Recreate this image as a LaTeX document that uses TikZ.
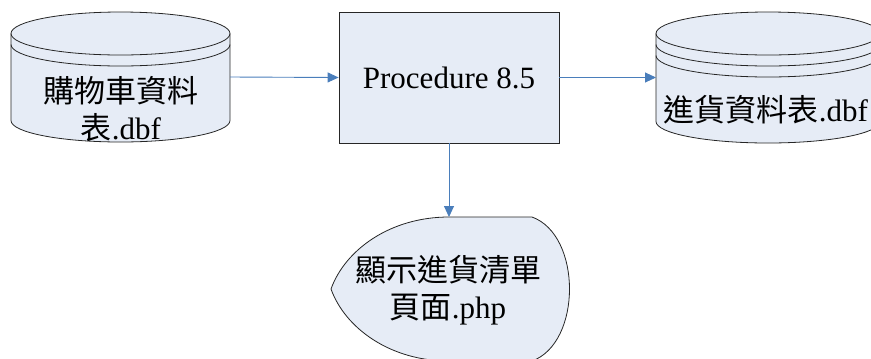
\documentclass[tikz,border=0pt]{standalone}
\usepackage{fontspec}
\setmainfont{Liberation Serif}
\newfontfamily\cjk{Noto Sans CJK TC}
\usetikzlibrary{arrows.meta}
\definecolor{shapefill}{HTML}{E6ECF6}
\definecolor{linkblue}{HTML}{4A7EBB}
\begin{document}
\begin{tikzpicture}[x=1bp,y=-1bp,
  outline/.style={draw=black!85, line width=0.8bp},
  shapebody/.style={fill=shapefill, outline},
  anchorbox/.style={inner sep=0pt, outer sep=0pt},
  label/.style={font=\fontsize{31bp}{37bp}\selectfont, align=center, inner sep=0pt},
  link/.style={draw=linkblue, line width=0.9bp, -{Triangle[length=11bp,width=10bp]}}]
\useasboundingbox (0,0) rectangle (871,358);

% left data store
\path[shapebody] (11,33.5) arc[start angle=180,end angle=360,x radius=109.5,y radius=21.5]
  -- (230,120.5) arc[start angle=0,end angle=180,x radius=109.5,y radius=21.5] -- cycle;
\draw[outline] (11,33.5) arc[start angle=180,end angle=0,x radius=109.5,y radius=21.5];
\draw[outline] (11,44.5) arc[start angle=180,end angle=0,x radius=109.5,y radius=21.5];
\node[anchorbox, minimum width=219bp, minimum height=130bp] (cart) at (120.5,77) {};
\node[label] (cartText) at (121,109) {{\cjk 購物車資料}\\{\cjk 表}{\rmfamily .dbf}};

% right data store
\path[shapebody] (656,33.5) arc[start angle=180,end angle=360,x radius=112,y radius=21.5]
  -- (880,121.5) arc[start angle=0,end angle=180,x radius=112,y radius=21.5] -- cycle;
\draw[outline] (656,33.5) arc[start angle=180,end angle=0,x radius=112,y radius=21.5];
\draw[outline] (656,44.5) arc[start angle=180,end angle=0,x radius=112,y radius=21.5];
\draw[outline] (656,55.5) arc[start angle=180,end angle=0,x radius=112,y radius=21.5];
\node[anchorbox, minimum width=224bp, minimum height=131bp] (stock) at (768,77.5) {};
\node[label] (stockText) at (766,110) {{\cjk 進貨資料表}{\rmfamily .dbf}};

% process box
\node[shapebody, label, minimum width=220bp, minimum height=131bp] (proc) at (449,77.5) {Procedure 8.5};

% display shape
\path[shapebody] (449,217) -- (532,217)
  .. controls (582,235) and (582,343) .. (532,361)
  -- (449,361)
  .. controls (390,361) and (345,328) .. (331,289)
  .. controls (345,250) and (390,217) .. (449,217) -- cycle;
\node[anchorbox, minimum width=237bp, minimum height=144bp] (disp) at (449,289) {};
\node[label] (dispText) at (448,290) {{\cjk 顯示進貨清單}\\{\cjk 頁面}{\rmfamily .php}};

% connectors
\draw[link] (cart.east) -- (proc.west);
\draw[link] (proc.east) -- (stock.west);
\draw[link] (proc.south) -- (disp.north);
\end{tikzpicture}
\end{document}
